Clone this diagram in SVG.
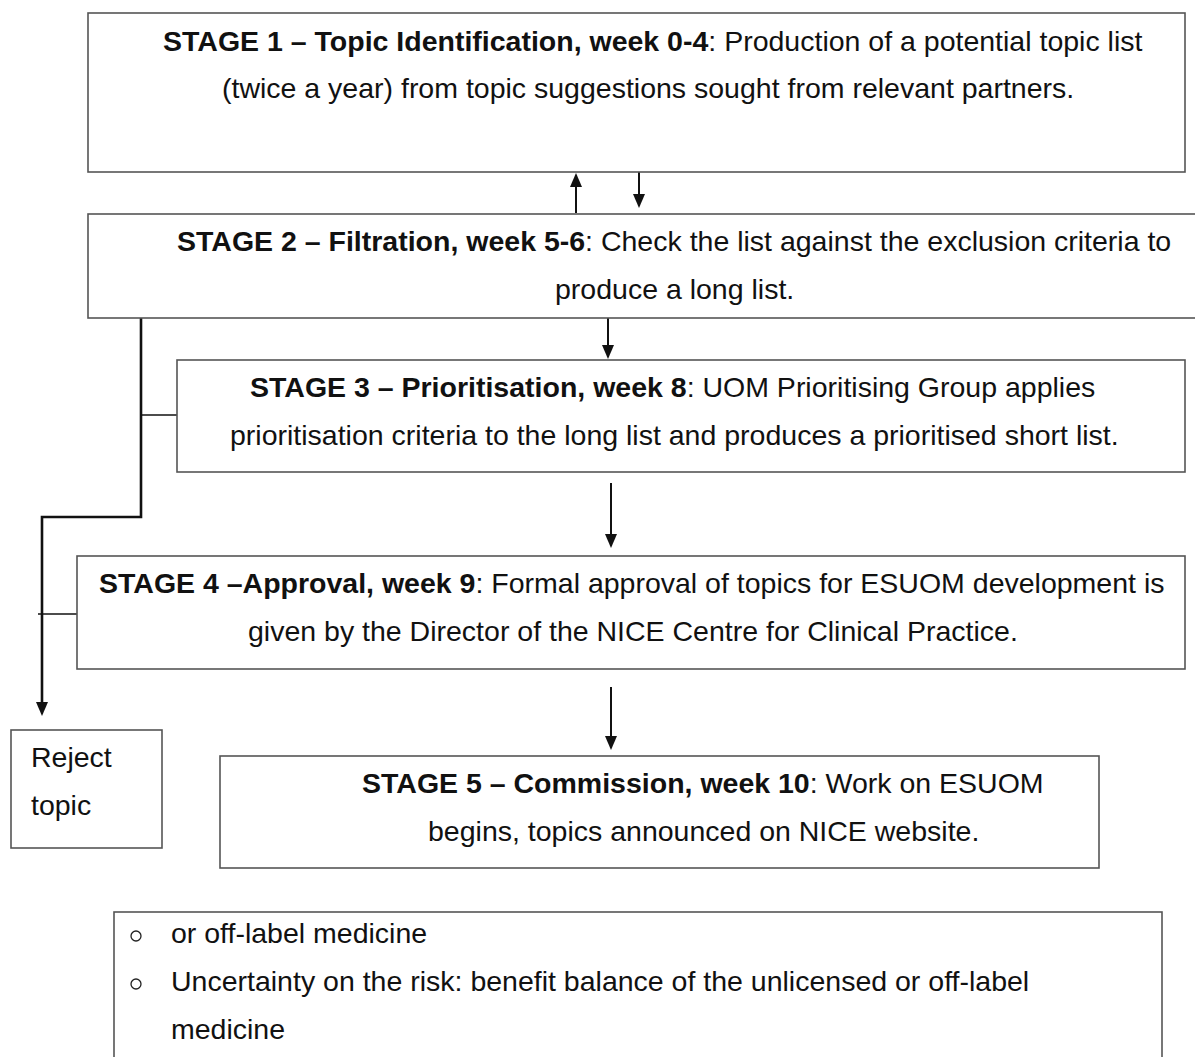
<svg xmlns="http://www.w3.org/2000/svg" width="1195" height="1057" viewBox="0 0 1195 1057">
<style>
.box{fill:#fff;stroke:#555;stroke-width:1.6}
.t{font-family:"Liberation Sans",Arial,sans-serif;font-size:28.5px;fill:#111}
.b{font-weight:bold}
.c{stroke:#111;stroke-width:2;fill:none}
.ck{stroke:#111;stroke-width:2.6;fill:none}
.th{stroke:#111;stroke-width:1.5;fill:none}
.ah{fill:#111}
</style>
<rect width="1195" height="1057" fill="#fff"/>
<g id="connectors">
<line class="c" x1="576" y1="213" x2="576" y2="186"/>
<path class="ah" d="M570,187 L582,187 L576,173 Z"/>
<line class="c" x1="639" y1="172" x2="639" y2="195"/>
<path class="ah" d="M633,194 L645,194 L639,208 Z"/>
<line class="c" x1="608" y1="311" x2="608" y2="346"/>
<path class="ah" d="M602,345 L614,345 L608,359 Z"/>
<line class="c" x1="611" y1="483" x2="611" y2="535"/>
<path class="ah" d="M605,534 L617,534 L611,548 Z"/>
<line class="c" x1="611" y1="687" x2="611" y2="737"/>
<path class="ah" d="M605,736 L617,736 L611,750 Z"/>
<path class="ck" d="M141,318 L141,517 L42,517 L42,703"/>
<path class="ah" d="M36,702 L48,702 L42,716 Z"/>
<line class="th" x1="141" y1="415" x2="177" y2="415"/>
<line class="th" x1="38" y1="614" x2="77" y2="614"/>
</g>
<g id="stage1">
<rect class="box" x="88" y="13" width="1097" height="159"/>
<text class="t" x="163" y="51"><tspan class="b">STAGE 1 – Topic Identification, week 0-4</tspan>: Production of a potential topic list</text>
<text class="t" x="222" y="98">(twice a year) from topic suggestions sought from relevant partners.</text>
</g>
<g id="stage2">
<rect class="box" x="88" y="214" width="1120" height="104"/>
<text class="t" x="177" y="251"><tspan class="b">STAGE 2 – Filtration, week 5-6</tspan>: Check the list against the exclusion criteria to</text>
<text class="t" x="555" y="299">produce a long list.</text>
</g>
<g id="stage3">
<rect class="box" x="177" y="360" width="1008" height="112"/>
<text class="t" x="250" y="397"><tspan class="b">STAGE 3 – Prioritisation, week 8</tspan>: UOM Prioritising Group applies</text>
<text class="t" x="230" y="445">prioritisation criteria to the long list and produces a prioritised short list.</text>
</g>
<g id="stage4">
<rect class="box" x="77" y="556" width="1108" height="113"/>
<text class="t" x="99" y="593"><tspan class="b">STAGE 4 –Approval, week 9</tspan>: Formal approval of topics for ESUOM development is</text>
<text class="t" x="248" y="641">given by the Director of the NICE Centre for Clinical Practice.</text>
</g>
<g id="stage5">
<rect class="box" x="220" y="756" width="879" height="112"/>
<text class="t" x="362" y="793"><tspan class="b">STAGE 5 – Commission, week 10</tspan>: Work on ESUOM</text>
<text class="t" x="428" y="841">begins, topics announced on NICE website.</text>
</g>
<g id="reject">
<rect class="box" x="11" y="730" width="151" height="118"/>
<text class="t" x="31" y="767">Reject</text>
<text class="t" x="31" y="815">topic</text>
</g>
<g id="criteria">
<rect class="box" x="114" y="912" width="1048" height="160"/>
<circle cx="136" cy="936" r="5" fill="none" stroke="#222" stroke-width="1.3"/>
<text class="t" x="171" y="943">or off-label medicine</text>
<circle cx="136" cy="984" r="5" fill="none" stroke="#222" stroke-width="1.3"/>
<text class="t" x="171" y="991">Uncertainty on the risk: benefit balance of the unlicensed or off-label</text>
<text class="t" x="171" y="1039">medicine</text>
</g>
</svg>
